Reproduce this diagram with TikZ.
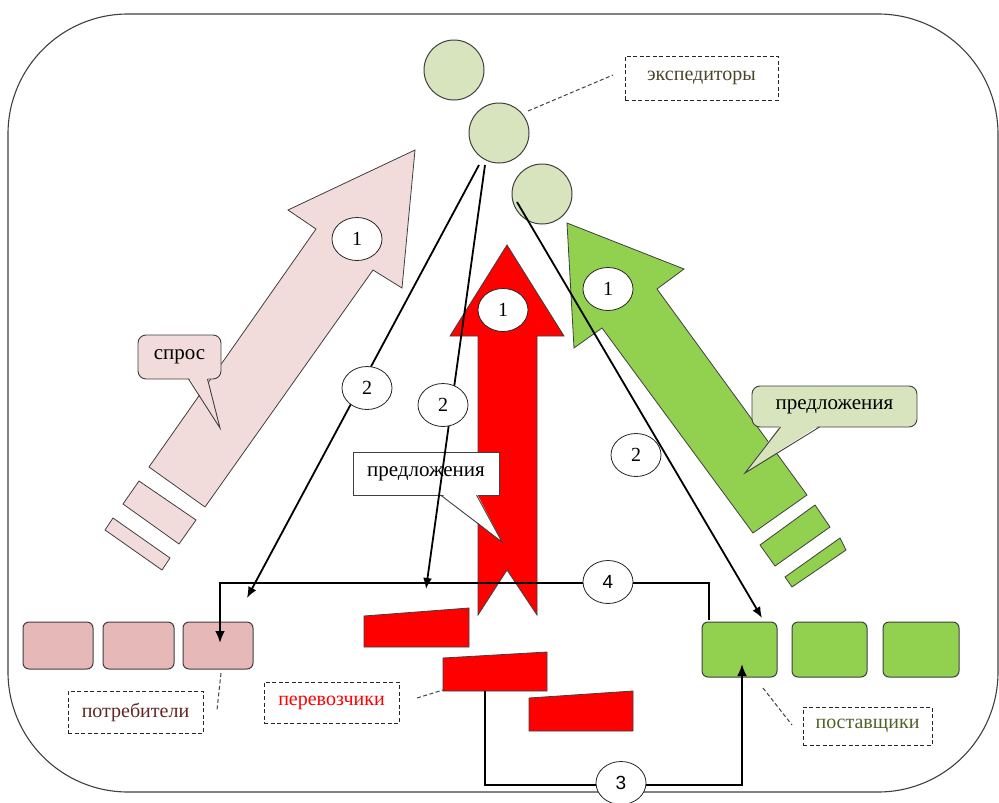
\documentclass[tikz,border=0pt]{standalone}
\usepackage{fontspec}
\setmainfont{Liberation Serif}
\newfontfamily\numsans{Liberation Sans}
\usetikzlibrary{arrows.meta,shapes.geometric}
\definecolor{edgec}{HTML}{3F3F3F}
\definecolor{pinkA}{HTML}{F2DCDB}
\definecolor{pinkB}{HTML}{E6B9B8}
\definecolor{greenA}{HTML}{92D050}
\definecolor{greenL}{HTML}{D7E4BD}
\definecolor{redA}{HTML}{FF0000}
\definecolor{txtexp}{HTML}{4A452A}
\definecolor{txtpot}{HTML}{632523}
\definecolor{txtpos}{HTML}{4F6228}
\begin{document}
\begin{tikzpicture}[x=1pt,y=-1pt,
  shp/.style={draw=edgec,line width=0.8pt},
  expc/.style={circle,draw=edgec,fill=greenL,minimum size=60pt,inner sep=0pt,line width=1pt},
  numl/.style={ellipse,draw=black!85,fill=white,line width=0.8pt,minimum width=50pt,minimum height=43pt,inner sep=0pt,font=\fontsize{20}{20}\selectfont},
  numls/.style={numl,font=\numsans\fontsize{19}{19}\selectfont},
  cbox/.style={rounded corners=6pt,draw=edgec,line width=1pt,inner sep=0pt},
  dlab/.style={draw=black!85,dashed,dash pattern=on 4pt off 2.5pt,line width=1pt,inner sep=0pt,font=\fontsize{20}{20}\selectfont},
  lead/.style={draw=black!75,dashed,dash pattern=on 4pt off 2.5pt,line width=1pt},
  conn/.style={line width=1.8pt,-{Latex[length=11pt,width=9pt]}},
  tline/.style={line width=2.6pt},
  call/.style={draw=edgec,line width=0.9pt,inner sep=0pt,font=\fontsize{21}{21}\selectfont}
]
\useasboundingbox (0,0) rectangle (999,803);
% outer frame
\draw[edgec,line width=1.1pt,rounded corners=120pt] (8,14) rectangle (998,792);

% big arrows
\draw[shp,fill=pinkA] (149,467) -- (316,229) -- (288,210) -- (415,150) -- (402,288) -- (373,270) -- (205,507) -- cycle;
\draw[shp,fill=pinkA] (139,481) -- (196,520) -- (179,544) -- (123,504) -- cycle;
\draw[shp,fill=pinkA] (113,518) -- (170,558) -- (162,570) -- (105,530) -- cycle;

\draw[shp,fill=greenA] (567,223) -- (684,269) -- (657,289) -- (807,495) -- (753,533) -- (602,328) -- (574,348) -- cycle;
\draw[shp,fill=greenA] (760,545) -- (815,505) -- (830,527) -- (775,566) -- cycle;
\draw[shp,fill=greenA] (785,577) -- (840,538) -- (846,550) -- (792,587) -- cycle;

\draw[shp,fill=redA] (507,245) -- (564,336) -- (537,336) -- (537,615) -- (507,570) -- (478,615) -- (478,336) -- (450,336) -- cycle;

\node[numl] (n1p) at (357,239) {1};
\node[numl] (n1g) at (608,289) {1};
\node[numl] (n1r) at (503,310) {1};

% callouts
\node[call,fill=pinkA,rounded corners=8pt,minimum width=83pt,minimum height=44pt] (spros) at (179.5,357) {спрос};
\fill[pinkA] (188.5,377) -- (220,428) -- (207.5,377) -- cycle;
\draw[edgec,line width=0.9pt] (188.5,379) -- (220,428) -- (207.5,379);

\node[call,fill=greenL,rounded corners=8pt,minimum width=165pt,minimum height=41pt] (predg) at (834.5,406.5) {предложения};
\fill[greenL] (780.5,425) -- (745,473) -- (819.5,425) -- cycle;
\draw[edgec,line width=0.9pt] (780.5,427) -- (745,473) -- (819.5,427);

\node[call,fill=white,minimum width=146pt,minimum height=43pt] (predm) at (426,473.5) {предложения};
\fill[white] (440.5,493) -- (502,542) -- (476.5,493) -- cycle;
\draw[edgec,line width=0.9pt] (440.5,495) -- (502,542) -- (476.5,495);

% expeditors
\node[expc] (e1) at (454,70) {};
\node[expc] (e2) at (499,133) {};
\node[expc] (e3) at (542,194) {};

% consumers
\node[cbox,fill=pinkB,minimum width=70pt,minimum height=47pt] (c1) at (58,645.5) {};
\node[cbox,fill=pinkB,minimum width=71pt,minimum height=47pt] (c2) at (138.5,645.5) {};
\node[cbox,fill=pinkB,minimum width=70pt,minimum height=47pt] (c3) at (218,645.5) {};

% suppliers
\node[cbox,fill=greenA,minimum width=75pt,minimum height=55pt] (s1) at (739.5,649.5) {};
\node[cbox,fill=greenA,minimum width=75pt,minimum height=55pt] (s2) at (829.5,649.5) {};
\node[cbox,fill=greenA,minimum width=76pt,minimum height=55pt] (s3) at (921,649.5) {};

% carriers
\draw[shp,fill=redA] (364,616) -- (469,608) -- (469,647) -- (364,647) -- cycle;
\draw[shp,fill=redA] (443,658) -- (547,652) -- (547,691) -- (443,691) -- cycle;
\draw[shp,fill=redA] (529,698) -- (633,691) -- (633,731) -- (529,731) -- cycle;
\coordinate (t2b) at (485,691);
\coordinate (t2l) at (443,690);

% connector coordinates
\coordinate (aA0) at (479,165);
\coordinate (aA1) at (247,598);
\coordinate (aB0) at (485,165);
\coordinate (aB1) at (426,589);
\coordinate (aC0) at (517,202);
\coordinate (aC1) at (762,618);

\draw[conn] (aA0) -- (aA1);
\draw[conn] (aB0) -- (aB1);
\draw[conn] (aC0) -- (aC1);

% line 4
\coordinate (l4r) at (709,620);
\coordinate (l4a) at (220,643);
\draw[tline,-{Latex[length=12pt,width=10pt]}] (l4r) -- (709,583) -- (220,583) -- (l4a);
% line 3
\coordinate (l3a) at (742,664);
\draw[tline,-{Latex[length=12pt,width=10pt]}] (t2b) -- (485,785) -- (742,785) -- (l3a);

% number labels
\node[numl] (n2a) at (367,388) {2};
\node[numl] (n2b) at (443,405) {2};
\node[numl] (n2c) at (636,455) {2};
\node[numls] (n4) at (608,582) {4};
\node[numls] (n3) at (621,783) {3};

% dashed labels
\node[dlab,text=txtexp,minimum width=153pt,minimum height=44pt] (lexp) at (701.5,78) {экспедиторы};
\draw[lead] (528,111) -- (613,75);
\node[dlab,text=txtpot,minimum width=135pt,minimum height=42pt] (lpot) at (135.5,712) {потребители};
\draw[lead] (221,673) -- (217,710);
\node[dlab,text=redA,minimum width=135pt,minimum height=41pt] (lper) at (331.5,702.5) {перевозчики};
\draw[lead] (417,698) -- (t2l);
\node[dlab,text=txtpos,minimum width=129pt,minimum height=38pt] (lpos) at (867.5,726) {поставщики};
\draw[lead] (763,688) -- (792,725);
\end{tikzpicture}
\end{document}
